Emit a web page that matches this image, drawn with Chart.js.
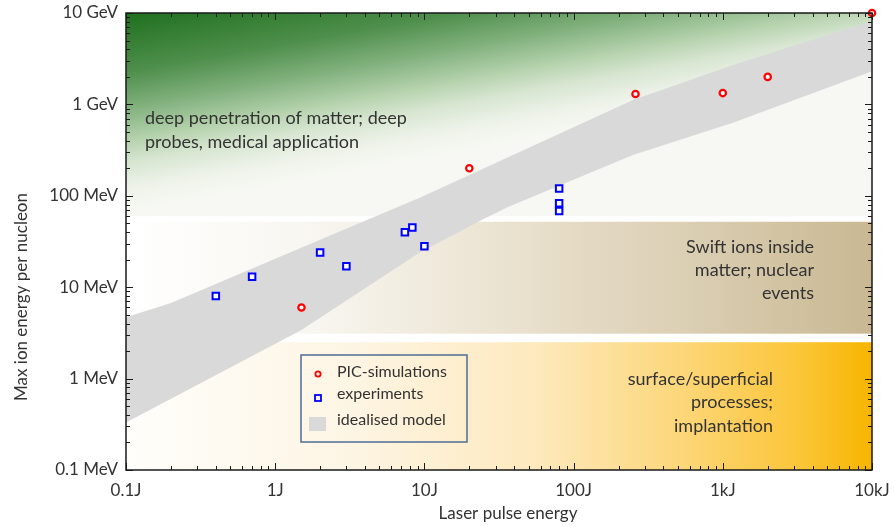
<!DOCTYPE html>
<html>
<head>
<meta charset="utf-8">
<script src="https://cdn.jsdelivr.net/npm/chart.js@4.4.1/dist/chart.umd.min.js"></script>
<style>
  html, body { margin: 0; padding: 0; background: #ffffff; overflow: hidden; }
  #wrap { position: relative; width: 894px; height: 527px; }
  canvas { display: block; }
</style>
</head>
<body>
<div id="wrap"><canvas id="chart"></canvas></div>
<script>
// Axis ticks (log scales: laser energy in J, ion energy in MeV)
const xTickValues = [0.1, 1, 10, 100, 1000, 10000];
const xTickLabels = ["0.1J", "1J", "10J", "100J", "1kJ", "10kJ"];
const yTickValues = [0.1, 1, 10, 100, 1000, 10000];
const yTickLabels = ["0.1 MeV", "1 MeV", "10 MeV", "100 MeV", "1 GeV", "10 GeV"];

// PIC-simulations
const picEnergyJ = [1.5, 20, 260, 1000, 2000, 10000];
const picIonMeV = [6, 200, 1300, 1330, 2000, 10000];

// experiments
const expEnergyJ = [0.4, 0.7, 2, 3, 7.4, 8.3, 10, 80, 80, 80];
const expIonMeV = [8, 13, 24, 17, 40, 45, 28, 120, 83, 68];

// idealised model band (upper and lower edge)
const modelUpperJ = [0.1, 0.2, 2, 9.3, 31, 250, 1170, 10000];
const modelUpperMeV = [4.7, 6.7, 33, 95, 235, 1120, 2700, 8200];
const modelLowerJ = [0.1, 1.5, 9.3, 24, 36, 250, 1170, 10000];
const modelLowerMeV = [0.33, 3.4, 24, 54, 75, 280, 630, 2300];

// application zones (MeV)
const zoneTopMeV = [10000, 52, 2.5];
const zoneBottomMeV = [60, 3.1, 0.1];
const zoneLabels = [
  ["deep penetration of matter; deep", "probes, medical application"],
  ["Swift ions inside", "matter; nuclear", "events"],
  ["surface/superficial", "processes;", "implantation"]
];

const FONT = "Lato, 'Open Sans', sans-serif";
const TEXT = "#333333";

const zoneStops = [
  [[0, "#1f701f"], [0.3, "#4f8f4c"], [0.475, "#80b07c"], [0.65, "#b8d4b0"], [0.75, "#d6e5d0"], [0.885, "#eef3ea"], [1, "#f7f8f3"]],
  [[0, "#ffffff"], [0.25, "#f8f6f0"], [0.5, "#ebe3d1"], [0.75, "#dbcfb4"], [1, "#c9b892"]],
  [[0, "#fffefb"], [0.3, "#fdf5e4"], [0.55, "#fde9bd"], [0.75, "#fcd677"], [0.9, "#fbc63a"], [1, "#f7b500"]]
];

const toPoints = (xs, ys) => xs.map((v, i) => ({ x: v, y: ys[i] }));

function logMarks(min, max) {
  const out = [];
  for (let d = min; d <= max * 1.001; d *= 10) {
    for (let k = 1; k < 10; k++) {
      if (d * k <= max * 1.001) out.push([d * k, k === 1]);
    }
  }
  return out;
}

// keep the plot box exactly where the layout padding puts it
function noScalePadding(s) {
  s.paddingTop = 0; s.paddingBottom = 0;
  s.paddingLeft = 0; s.paddingRight = 0;
}

const backdrop = {
  id: "backdrop",
  beforeDatasetsDraw(chart) {
    const { ctx, chartArea: a, scales: { y } } = chart;
    ctx.save();
    zoneTopMeV.forEach((top, i) => {
      const y0 = y.getPixelForValue(top);
      const y1 = y.getPixelForValue(zoneBottomMeV[i]);
      let g;
      if (i === 0) {
        // slanted green fade, darker towards the top left corner
        const h = 193;
        g = ctx.createLinearGradient(a.left, a.top, a.left + 0.18 * h, a.top + h);
      } else {
        g = ctx.createLinearGradient(a.left, 0, a.right, 0);
      }
      zoneStops[i].forEach(([o, c]) => g.addColorStop(o, c));
      ctx.fillStyle = g;
      ctx.fillRect(a.left, y0, a.right - a.left, y1 - y0);
    });
    ctx.restore();
  }
};

const frame = {
  id: "frame",
  afterDraw(chart) {
    const { ctx, chartArea: a, scales: { x, y } } = chart;
    ctx.save();

    // inward ticks on all four sides
    ctx.strokeStyle = "#1a1a1a";
    ctx.lineWidth = 1;
    ctx.beginPath();
    logMarks(xTickValues[0], xTickValues[xTickValues.length - 1]).forEach(([v, major]) => {
      const p = Math.round(x.getPixelForValue(v)) + 0.5;
      const len = major ? 7 : 4;
      ctx.moveTo(p, a.bottom); ctx.lineTo(p, a.bottom - len);
      ctx.moveTo(p, a.top); ctx.lineTo(p, a.top + len);
    });
    logMarks(yTickValues[0], yTickValues[yTickValues.length - 1]).forEach(([v, major]) => {
      const p = Math.round(y.getPixelForValue(v)) + 0.5;
      const len = major ? 7 : 4;
      ctx.moveTo(a.left, p); ctx.lineTo(a.left + len, p);
      ctx.moveTo(a.right, p); ctx.lineTo(a.right - len, p);
    });
    ctx.stroke();
    ctx.lineWidth = 1.5;
    ctx.strokeRect(a.left, a.top, a.right - a.left, a.bottom - a.top);

    // zone labels
    ctx.fillStyle = TEXT;
    ctx.font = "18px " + FONT;
    ctx.textBaseline = "middle";
    ctx.textAlign = "left";
    zoneLabels[0].forEach((t, i) => ctx.fillText(t, a.left + 19, a.top + 105 + i * 24));
    ctx.textAlign = "right";
    zoneLabels[1].forEach((t, i) => ctx.fillText(t, a.left + 688, a.top + 234 + i * 23));
    zoneLabels[2].forEach((t, i) => ctx.fillText(t, a.left + 647, a.top + 366 + i * 23.5));

    // axis titles
    ctx.font = "17px " + FONT;
    ctx.textAlign = "center";
    ctx.fillText("Laser pulse energy", a.left + 382, a.bottom + 44);
    ctx.save();
    ctx.translate(a.left - 104, a.top + 284);
    ctx.rotate(-Math.PI / 2);
    ctx.fillText("Max ion energy per nucleon", 0, 0);
    ctx.restore();

    // legend
    const lx = a.left + 175, ly = a.top + 342;
    ctx.strokeStyle = "#4d6e94";
    ctx.lineWidth = 1.5;
    ctx.strokeRect(lx, ly, 166, 87);
    ctx.font = "16px " + FONT;
    ctx.textAlign = "left";
    ctx.fillStyle = TEXT;
    const ds = chart.data.datasets;
    ctx.fillText(ds[0].label, lx + 36, ly + 17);
    ctx.fillText(ds[1].label, lx + 36, ly + 39);
    ctx.fillText(ds[2].label, lx + 36, ly + 65);
    ctx.lineWidth = 1.8;
    ctx.strokeStyle = ds[0].borderColor;
    ctx.beginPath(); ctx.arc(lx + 17, ly + 19, 2.6, 0, Math.PI * 2); ctx.stroke();
    ctx.strokeStyle = ds[1].borderColor;
    ctx.strokeRect(lx + 14, ly + 40, 6, 6);
    ctx.fillStyle = ds[2].backgroundColor;
    ctx.fillRect(lx + 8, ly + 62, 17, 14);

    ctx.restore();
  }
};

new Chart(document.getElementById("chart"), {
  type: "scatter",
  data: {
    datasets: [
      {
        label: "PIC-simulations",
        data: toPoints(picEnergyJ, picIonMeV),
        pointStyle: "circle",
        pointRadius: 3.2,
        borderWidth: 2.2,
        borderColor: "#ff0000",
        backgroundColor: "#ffffff",
        clip: false,
        order: 0
      },
      {
        label: "experiments",
        data: toPoints(expEnergyJ, expIonMeV),
        pointStyle: "rect",
        pointRadius: 4.6,
        borderWidth: 2,
        borderColor: "#0000ff",
        backgroundColor: "#ffffff",
        clip: false,
        order: 0
      },
      {
        label: "idealised model",
        data: toPoints(modelUpperJ, modelUpperMeV),
        showLine: true,
        pointRadius: 0,
        borderWidth: 0,
        borderColor: "#d9d9d9",
        backgroundColor: "#d9d9d9",
        fill: "+1",
        order: 5
      },
      {
        label: "idealised model lower",
        data: toPoints(modelLowerJ, modelLowerMeV),
        showLine: true,
        pointRadius: 0,
        borderWidth: 0,
        borderColor: "#d9d9d9",
        fill: false,
        order: 5
      }
    ]
  },
  options: {
    responsive: true,
    maintainAspectRatio: false,
    animation: false,
    events: [],
    layout: { autoPadding: false, padding: { left: 0, top: 13, right: 22, bottom: 0 } },
    plugins: {
      legend: { display: false },
      tooltip: { enabled: false }
    },
    scales: {
      x: {
        type: "logarithmic",
        min: 0.1,
        max: 10000,
        grid: { display: false, drawTicks: false },
        border: { display: false },
        afterBuildTicks: s => { s.ticks = xTickValues.map(v => ({ value: v })); },
        afterFit: s => { s.height = 57; noScalePadding(s); },
        ticks: {
          autoSkip: false,
          maxRotation: 0,
          padding: 10,
          color: TEXT,
          font: { family: FONT, size: 17 },
          callback: (v, i) => xTickLabels[i]
        }
      },
      y: {
        type: "logarithmic",
        min: 0.1,
        max: 10000,
        grid: { display: false, drawTicks: false },
        border: { display: false },
        afterBuildTicks: s => { s.ticks = yTickValues.map(v => ({ value: v })); },
        afterFit: s => { s.width = 126; noScalePadding(s); },
        ticks: {
          autoSkip: false,
          padding: 8,
          color: TEXT,
          font: { family: FONT, size: 17 },
          callback: (v, i) => yTickLabels[i]
        }
      }
    }
  },
  plugins: [backdrop, frame]
});
</script>
</body>
</html>
